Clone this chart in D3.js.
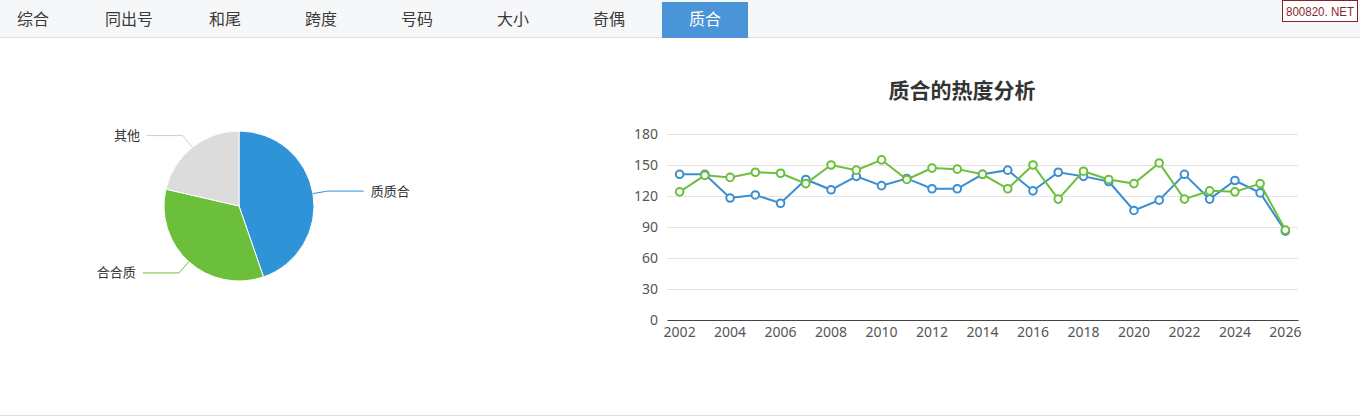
<!DOCTYPE html>
<html>
<head>
<meta charset="utf-8">
<script src="https://cdn.jsdelivr.net/npm/d3@7"></script>
<style>
  body { margin: 0; background: #fff; font-family: "Noto Sans CJK SC", "Noto Sans", sans-serif; }
  svg { display: block; }
</style>
</head>
<body>
<svg id="chart" width="1360" height="419"></svg>
<script>
// tabs
let tabs = ["综合", "同出号", "和尾", "跨度", "号码", "大小", "奇偶", "质合"];
let activeTab = "质合";

// pie data
let pieNames = ["质质合", "合合质", "其他"];
let pieValues = [44.7, 33.9, 21.4];

// line data
let years = ["2002","2003","2004","2005","2006","2007","2008","2009","2010","2011","2012","2013",
             "2014","2015","2016","2017","2018","2019","2020","2021","2022","2023","2024","2025","2026"];
let blueValues = [141,141,118,121,113,136,126,139,130,137,127,127,141,145,125,143,139,134,106,116,141,117,135,123,86];
let greenValues = [124,140,138,143,142,132,150,145,155,136,147,146,141,127,150,117,144,136,132,152,117,125,124,132,87];
let yTicks = [0, 30, 60, 90, 120, 150, 180];

let colors = ["#2f93d8", "#6bbf3b", "#dcdcdc"];

let svg = d3.select("#chart");

// ---- tab bar ----
svg.append("rect").attr("x", 0).attr("y", 0).attr("width", 1360).attr("height", 37).attr("fill", "#f6f7f8");
svg.append("line").attr("x1", 0).attr("x2", 1360).attr("y1", 37.5).attr("y2", 37.5).attr("stroke", "#e2e2e2");

let tabX = d3.scalePoint().domain(tabs).range([33, 705]);
let tabG = svg.append("g");
tabG.append("rect")
    .attr("x", tabX(activeTab) - 43).attr("y", 2)
    .attr("width", 86).attr("height", 36)
    .attr("fill", "#4a94d8");
tabG.selectAll("text")
    .data(tabs)
    .enter()
    .append("text")
    .attr("x", d => tabX(d))
    .attr("y", 25)
    .attr("text-anchor", "middle")
    .attr("font-size", 16)
    .attr("fill", d => d == activeTab ? "#fff" : "#3a3a3a")
    .text(d => d);

// watermark
svg.append("rect").attr("x", 1282.5).attr("y", 0.5).attr("width", 75).attr("height", 21)
    .attr("fill", "#fff").attr("stroke", "#8a1f2e");
svg.append("text").attr("x", 1320).attr("y", 16).attr("text-anchor", "middle")
    .attr("font-size", 12).attr("fill", "#8a1f2e").attr("font-family", "Liberation Sans Narrow, Liberation Sans, Arial")
    .attr("textLength", 68).attr("lengthAdjust", "spacingAndGlyphs")
    .text("800820. NET");

// bottom line
svg.append("line").attr("x1", 0).attr("x2", 1360).attr("y1", 415.5).attr("y2", 415.5).attr("stroke", "#ddd");

// ---- pie ----
let cx = 239, cy = 206, r = 75;
let pieG = svg.append("g").attr("transform", "translate(" + cx + "," + cy + ")");
let arcs = d3.pie().sort(null)(pieValues);
let arc = d3.arc().innerRadius(0).outerRadius(r);

pieG.selectAll("path")
    .data(arcs)
    .enter()
    .append("path")
    .attr("d", arc)
    .attr("fill", (d, i) => colors[i])
    .attr("stroke", "#fff")
    .attr("stroke-width", 1);

// label lines
arcs.forEach(function(d, i) {
    let mid = (d.startAngle + d.endAngle) / 2;
    let p0 = [Math.sin(mid) * r, -Math.cos(mid) * r];
    let p1 = [Math.sin(mid) * (r + 15), -Math.cos(mid) * (r + 15)];
    let onRight = Math.sin(mid) > 0;
    let p2 = [p1[0] + (onRight ? 36 : -36), p1[1]];
    let lineCol = i == 2 ? "#cfcfcf" : colors[i];
    pieG.append("polyline")
        .attr("points", [p0, p1, p2].map(p => p.join(",")).join(" "))
        .attr("fill", "none")
        .attr("stroke", lineCol)
        .attr("stroke-width", 1);
    pieG.append("text")
        .attr("x", p2[0] + (onRight ? 7 : -7))
        .attr("y", p2[1] + 4.5)
        .attr("text-anchor", onRight ? "start" : "end")
        .attr("font-size", 13)
        .attr("fill", "#333")
        .text(pieNames[i]);
});

// ---- line chart ----
let plotLeft = 667, plotRight = 1298, plotTop = 134, plotBottom = 320;

svg.append("text")
    .attr("x", 962).attr("y", 98)
    .attr("text-anchor", "middle")
    .attr("font-size", 21)
    .attr("font-weight", "bold")
    .attr("fill", "#333")
    .text("质合的热度分析");

let x = d3.scaleBand().domain(years).range([plotLeft, plotRight]);
let y = d3.scaleLinear().domain([0, 180]).range([plotBottom, plotTop]);

// grid
svg.append("g")
    .selectAll("line")
    .data(yTicks.slice(1))
    .enter()
    .append("line")
    .attr("x1", plotLeft).attr("x2", plotRight)
    .attr("y1", d => y(d) + 0.5).attr("y2", d => y(d) + 0.5)
    .attr("stroke", "#e3e3e3");

let yAxis = svg.append("g")
    .attr("transform", "translate(" + plotLeft + ",0)")
    .call(d3.axisLeft(y).tickValues(yTicks).tickSize(0).tickPadding(9));
yAxis.select(".domain").remove();
yAxis.selectAll("text").attr("font-size", 14).attr("fill", "#555").attr("font-family", "Noto Sans, sans-serif");

let xAxis = svg.append("g")
    .attr("transform", "translate(0," + plotBottom + ")")
    .call(d3.axisBottom(x).tickValues(years.filter((d, i) => i % 2 == 0)).tickSize(0).tickPadding(7));
xAxis.select(".domain").attr("stroke", "#444").attr("stroke-width", 1.2);
xAxis.selectAll("text").attr("font-size", 14).attr("fill", "#555").attr("font-family", "Noto Sans, sans-serif");

let series = [
    { values: blueValues, color: "#3b8fd0" },
    { values: greenValues, color: "#6bbf3b" }
];

let line = d3.line()
    .x((d, i) => x(years[i]) + x.bandwidth() / 2)
    .y(d => y(d));

series.forEach(function(s) {
    let g = svg.append("g");
    g.append("path")
        .attr("d", line(s.values))
        .attr("fill", "none")
        .attr("stroke", s.color)
        .attr("stroke-width", 2);
    g.selectAll("circle")
        .data(s.values)
        .enter()
        .append("circle")
        .attr("cx", (d, i) => x(years[i]) + x.bandwidth() / 2)
        .attr("cy", d => y(d))
        .attr("r", 3.8)
        .attr("fill", "#fff")
        .attr("stroke", s.color)
        .attr("stroke-width", 2);
});
</script>
</body>
</html>
